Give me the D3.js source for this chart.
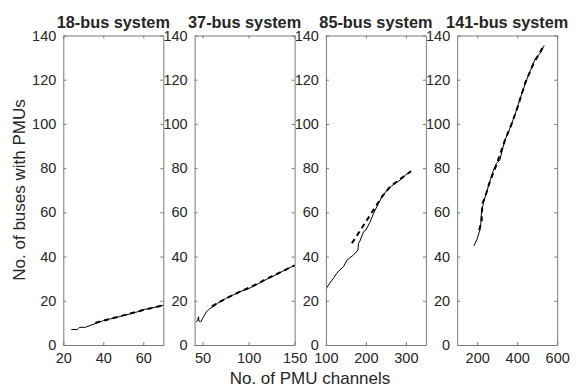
<!DOCTYPE html>
<html lang="en">
  <head>
    <meta charset="UTF-8" />
    <title>PMU channels</title>
    <style>
      body { margin: 0; background: #fff; }
      text { font-family: "Liberation Sans", Arial, sans-serif; fill: #262626; }
    </style>
  </head>
  <body>
    <svg id="svg" width="581" height="387"></svg>

    <script src="https://cdn.jsdelivr.net/npm/d3@7"></script>
    <script>
      const WIDTH = 581;
      const HEIGHT = 387;
      const TOP = 35.5;
      const BOTTOM = 345;
      const PANEL_W = 100;
      const PANEL_LEFT = 63.3;
      const PANEL_STEP = 131.3;

      // data
      const titles = ["18-bus system", "37-bus system", "85-bus system", "141-bus system"];
      const xDomains = [[20, 70], [41.3, 150], [100, 350], [100, 600]];
      const xTicks = [[20, 40, 60], [50, 100, 150], [100, 200, 300], [200, 400, 600]];
      const yTicks = [0, 20, 40, 60, 80, 100, 120, 140];

      const solid18 = [[24, 7], [27, 7], [28, 8], [31, 8], [34, 9], [37, 10], [40, 11], [43, 11.7],
        [46, 12.3], [50, 13.3], [54, 14.2], [57, 15], [60, 16], [64, 16.7], [67, 17.3], [70, 18]];
      const dashed18 = [[36, 10], [40, 11], [45, 12.2], [50, 13.4], [55, 14.6], [60, 15.8], [65, 16.9], [70, 18]];

      const solid37 = [[42.8, 10.3], [44.5, 11], [45.5, 12.8], [46, 10.8], [48, 10.5], [50, 12], [54, 15],
        [58, 16.5], [62, 17.5], [66, 18.8], [70, 19.8], [75, 21], [80, 22], [85, 23], [90, 24], [95, 24.8],
        [100, 25.5], [110, 27.6], [120, 29.8], [130, 31.8], [140, 34], [150, 36]];
      const dashed37 = [[60, 17.5], [70, 19.8], [80, 22], [90, 24], [100, 25.8], [110, 27.8], [120, 30],
        [130, 32], [140, 34], [150, 36]];

      const solid85 = [[100.8, 25.6], [110, 28], [120, 30.5], [127, 32.4], [135, 34], [144, 35.4],
        [152.5, 38.4], [160, 39.5], [169, 40.7], [178, 42.5], [180, 43], [181.5, 46], [185, 47],
        [194, 51.2], [200, 52], [210, 55.5], [219, 59.5], [230, 63.5], [240, 67], [252.5, 70],
        [265, 72], [276, 73.5], [286, 74.6], [300, 77], [313, 78.6]];
      const dashed85 = [[165, 46], [190, 53], [215, 60], [240, 67], [260, 71.5], [285, 75], [313, 78.6]];

      const solid141 = [[183.5, 44.8], [200, 48], [213.5, 52], [218, 55], [222, 61], [228, 63],
        [235, 65.6], [245, 68.5], [255, 71.6], [270, 76], [285, 80], [297, 82.2], [313.5, 83.7],
        [325, 88], [338.5, 92.7], [350, 95], [363.5, 98], [380, 102], [397, 106.3], [420, 113],
        [447, 119.9], [470, 125], [490, 129.5], [515, 132], [535, 135.5]];
      const dashed141 = [[210, 52], [222, 56], [226, 64], [240, 67], [260, 73], [300, 82.5], [340, 93],
        [370, 99.5], [400, 107], [440, 118.5], [480, 127], [535, 135.8]];

      const solids = [solid18, solid37, solid85, solid141];
      const dashes = [dashed18, dashed37, dashed85, dashed141];

      const svg = d3.select("#svg");

      const yScale = d3.scaleLinear().domain([0, 140]).range([BOTTOM, TOP]);

      titles.forEach((title, i) => {
        const left = PANEL_LEFT + i * PANEL_STEP;
        const xScale = d3.scaleLinear().domain(xDomains[i]).range([left, left + PANEL_W]);
        const g = svg.append("g");

        const line = d3.line()
          .x((d) => xScale(d[0]))
          .y((d) => yScale(d[1]));

        g.append("path")
          .attr("d", line(solids[i]))
          .attr("fill", "none")
          .attr("stroke", "#000")
          .attr("stroke-width", 1);

        g.append("path")
          .attr("d", line(dashes[i]))
          .attr("fill", "none")
          .attr("stroke", "#000")
          .attr("stroke-width", 2)
          .attr("stroke-dasharray", "5,4");

        // axes with inward ticks on all four sides
        const bottomAxis = d3.axisBottom(xScale).tickValues(xTicks[i]).tickSizeInner(-3).tickSizeOuter(0).tickPadding(8);
        const topAxis = d3.axisTop(xScale).tickValues(xTicks[i]).tickSizeInner(-3).tickSizeOuter(0).tickFormat("");
        const leftAxis = d3.axisLeft(yScale).tickValues(yTicks).tickSizeInner(-3).tickSizeOuter(0).tickPadding(7);
        const rightAxis = d3.axisRight(yScale).tickValues(yTicks).tickSizeInner(-3).tickSizeOuter(0).tickFormat("");

        const axes = [
          [bottomAxis, `translate(0, ${BOTTOM})`],
          [topAxis, `translate(0, ${TOP})`],
          [leftAxis, `translate(${left}, 0)`],
          [rightAxis, `translate(${left + PANEL_W}, 0)`],
        ];
        axes.forEach(([axis, tr]) => {
          const a = g.append("g").attr("transform", tr).call(axis);
          a.selectAll("path, line").attr("stroke", "#7a7a7a");
          a.selectAll("text")
            .style("font-family", '"Liberation Sans", Arial, sans-serif')
            .style("font-size", "14.5px")
            .attr("fill", "#262626");
        });

        g.append("text")
          .attr("x", left + PANEL_W / 2)
          .attr("y", 28)
          .attr("text-anchor", "middle")
          .style("font-size", "16.3px")
          .style("font-weight", "bold")
          .attr("fill", "#000")
          .text(title);
      });

      svg.append("text")
        .attr("x", 310)
        .attr("y", 384)
        .attr("text-anchor", "middle")
        .style("font-size", "17px")
        .text("No. of PMU channels");

      svg.append("text")
        .attr("transform", "translate(25, 190) rotate(-90)")
        .attr("text-anchor", "middle")
        .style("font-size", "17px")
        .text("No. of buses with PMUs");
    </script>
  </body>
</html>
